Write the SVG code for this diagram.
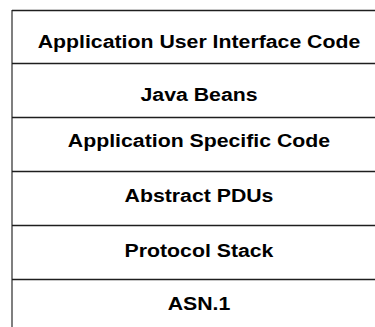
<svg xmlns="http://www.w3.org/2000/svg" width="375" height="327" viewBox="0 0 375 327">
  <style>
    .sep { stroke: #1e1e1e; stroke-width: 1.6; fill: none; }
    .edge { stroke: #7f7f7f; stroke-width: 2; fill: none; }
    .lbl { font-family: "Liberation Sans", Arial, sans-serif; font-weight: bold; font-size: 19px; fill: #000; text-anchor: middle; }
  </style>
  <rect width="375" height="327" fill="#fff"/>
  <!-- layer boundaries -->
  <g id="connectors">
    <line class="edge" x1="12" y1="10" x2="12" y2="327"/>
    <line class="sep" x1="12" y1="10.5" x2="375" y2="10.5"/>
    <line class="sep" x1="12" y1="63.5" x2="375" y2="63.5"/>
    <line class="sep" x1="12" y1="117.5" x2="375" y2="117.5"/>
    <line class="sep" x1="12" y1="171.5" x2="375" y2="171.5"/>
    <line class="sep" x1="12" y1="225.5" x2="375" y2="225.5"/>
    <line class="sep" x1="12" y1="279.5" x2="375" y2="279.5"/>
  </g>
  <!-- stack layers, top to bottom -->
  <g id="ui-code"><text class="lbl" transform="translate(199,47.5) scale(1.12,1)">Application User Interface Code</text></g>
  <g id="java-beans"><text class="lbl" transform="translate(199,100.5) scale(1.12,1)">Java Beans</text></g>
  <g id="app-code"><text class="lbl" transform="translate(199,147) scale(1.12,1)">Application Specific Code</text></g>
  <g id="abstract-pdus"><text class="lbl" transform="translate(199,201.5) scale(1.12,1)">Abstract PDUs</text></g>
  <g id="protocol-stack"><text class="lbl" transform="translate(199,257) scale(1.12,1)">Protocol Stack</text></g>
  <g id="asn1"><text class="lbl" transform="translate(199,310) scale(1.12,1)">ASN.1</text></g>
</svg>
